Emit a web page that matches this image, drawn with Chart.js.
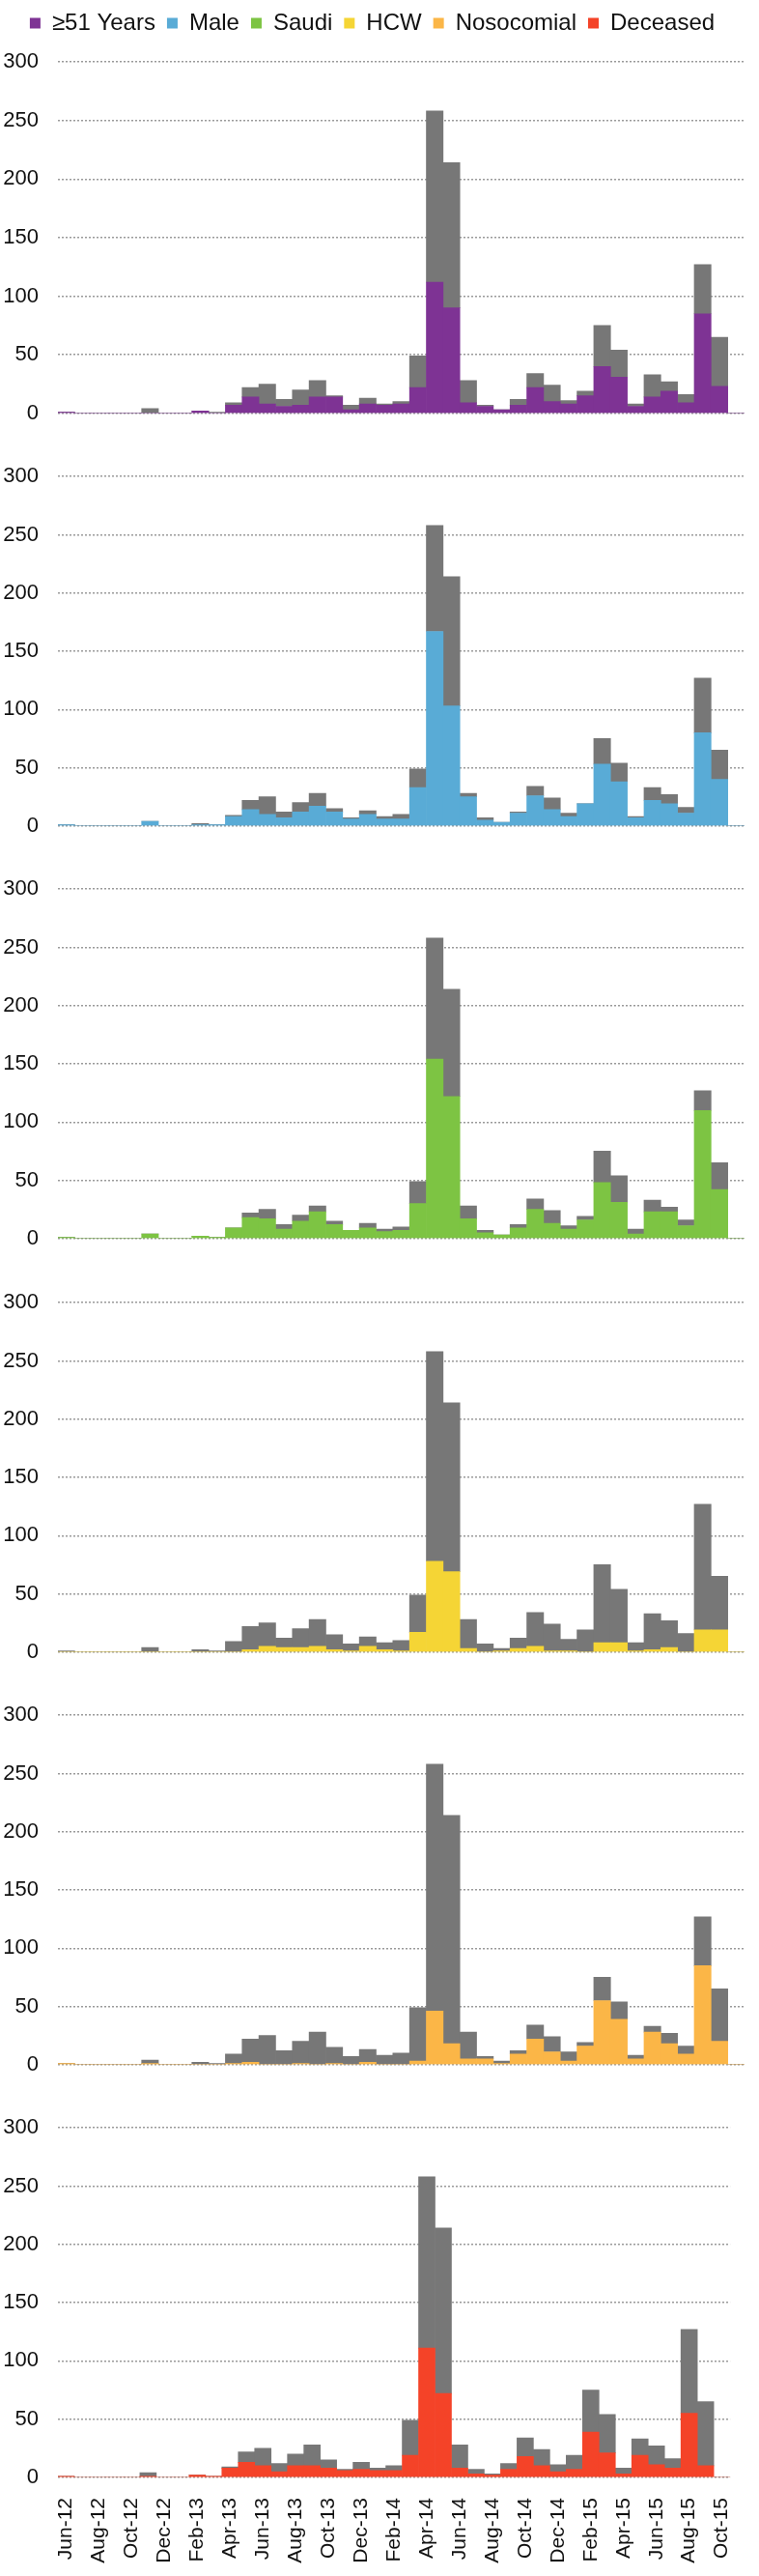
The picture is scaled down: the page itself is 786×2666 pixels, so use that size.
<!DOCTYPE html>
<html>
<head>
<meta charset="utf-8">
<title>Cases by month</title>
<script src="https://cdn.jsdelivr.net/npm/chart.js@4"></script>
<style>
    body { margin: 0; background: #fff; }
    #wrap { position: relative; width: 786px; height: 2666px; }
    #wrap canvas { position: absolute; left: 0; }
</style>
</head>
<body>
<div id="wrap">
    <canvas id="panel-0" width="786" height="461" style="top:0px"></canvas>
    <canvas id="panel-1" width="786" height="428" style="top:460px"></canvas>
    <canvas id="panel-2" width="786" height="428" style="top:887px"></canvas>
    <canvas id="panel-3" width="786" height="428" style="top:1315px"></canvas>
    <canvas id="panel-4" width="786" height="428" style="top:1742px"></canvas>
    <canvas id="panel-5" width="786" height="497" style="top:2169px"></canvas>
</div>
<script>
const months = ["Jun-12", "Jul-12", "Aug-12", "Sep-12", "Oct-12", "Nov-12", "Dec-12",
    "Jan-13", "Feb-13", "Mar-13", "Apr-13", "May-13", "Jun-13", "Jul-13", "Aug-13", "Sep-13", "Oct-13", "Nov-13", "Dec-13",
    "Jan-14", "Feb-14", "Mar-14", "Apr-14", "May-14", "Jun-14", "Jul-14", "Aug-14", "Sep-14", "Oct-14", "Nov-14", "Dec-14",
    "Jan-15", "Feb-15", "Mar-15", "Apr-15", "May-15", "Jun-15", "Jul-15", "Aug-15", "Sep-15", "Oct-15"];

// all cases per month (the grey part is whatever is left over)
const totalCases = [1, 0, 0, 0, 0, 4, 0, 0, 2, 1, 9, 22, 25, 12, 20, 28, 15, 7, 13, 8,
    10, 49, 258, 214, 28, 7, 3, 12, 34, 24, 11, 19, 75, 54, 8, 33, 27, 16, 127, 65, 0];

const over51 = [1, 0, 0, 0, 0, 0, 0, 0, 2, 0, 7, 14, 8, 6, 7, 14, 14, 3, 8, 7,
    8, 22, 112, 90, 9, 6, 3, 7, 22, 10, 8, 15, 40, 31, 6, 14, 19, 9, 85, 23, 0];
const male = [1, 0, 0, 0, 0, 4, 0, 0, 1, 1, 8, 14, 10, 7, 12, 17, 12, 6, 10, 6,
    6, 33, 167, 103, 25, 5, 3, 11, 26, 14, 8, 19, 53, 38, 7, 22, 19, 11, 80, 40, 0];
const saudi = [1, 0, 0, 0, 0, 4, 0, 0, 2, 1, 9, 18, 17, 8, 15, 23, 12, 7, 9, 6,
    7, 30, 154, 122, 17, 5, 3, 9, 25, 13, 8, 16, 48, 31, 4, 23, 23, 11, 110, 42, 0];
const hcw = [0, 0, 0, 0, 0, 0, 0, 0, 0, 0, 0, 2, 5, 4, 4, 5, 2, 1, 5, 2,
    1, 17, 78, 69, 3, 0, 1, 3, 5, 1, 1, 0, 8, 8, 1, 2, 4, 0, 19, 19, 0];
const nosocomial = [1, 0, 0, 0, 0, 1, 0, 0, 0, 0, 1, 2, 0, 0, 1, 0, 1, 0, 2, 0,
    0, 3, 46, 18, 5, 5, 1, 9, 22, 11, 3, 16, 55, 39, 5, 28, 18, 9, 85, 20, 0];
const deceased = [1, 0, 0, 0, 0, 1, 0, 0, 2, 1, 8, 13, 10, 5, 10, 10, 8, 6, 7, 6,
    6, 19, 111, 72, 8, 3, 2, 7, 18, 10, 5, 7, 39, 21, 3, 19, 11, 8, 55, 10, 0];

const categories = ['≥51 Years', 'Male', 'Saudi', 'HCW', 'Nosocomial', 'Deceased'];
const subsets = [over51, male, saudi, hcw, nosocomial, deceased];
const colors = ['#7E3394', '#59ABD6', '#7DC443', '#F5D535', '#FBB647', '#F44328'];

const yMax = 300;
const yStep = 50;

const fontFamily = "'Liberation Sans', Arial, sans-serif";

// push the first plot down below the legend
const legendSpace = {
    id: 'legendSpace',
    beforeInit(chart) {
        const fit = chart.legend.fit;
        chart.legend.fit = function () {
            fit.bind(chart.legend)();
            this.height = 64;
        };
    }
};

function drawPanel(p) {
    const first = p === 0;
    const last = p === subsets.length - 1;
    const subset = subsets[p];
    const rest = totalCases.map((t, i) => t - subset[i]);

    return new Chart(document.getElementById('panel-' + p), {
        type: 'bar',
        data: {
            labels: months,
            datasets: [{
                label: categories[p],
                data: subset,
                backgroundColor: colors[p],
                borderWidth: 0
            }, {
                label: 'Other',
                data: rest,
                backgroundColor: '#777777',
                borderWidth: 0
            }]
        },
        options: {
            responsive: false,
            animation: false,
            categoryPercentage: 1,
            barPercentage: 1,
            layout: {
                padding: {left: 0, right: 15, top: first ? 0 : 31, bottom: last ? 0 : 31}
            },
            plugins: {
                tooltip: {enabled: false},
                legend: {
                    display: first,
                    position: 'top',
                    labels: {
                        boxWidth: 11,
                        boxHeight: 11,
                        padding: 12,
                        color: '#111',
                        font: {family: fontFamily, size: 24},
                        generateLabels: () => categories.map((name, i) => ({
                            text: name,
                            fillStyle: colors[i],
                            strokeStyle: colors[i],
                            lineWidth: 0,
                            fontColor: '#111',
                            hidden: false,
                            datasetIndex: 0
                        }))
                    }
                }
            },
            scales: {
                x: {
                    stacked: true,
                    display: last,
                    grid: {display: false},
                    border: {display: false},
                    ticks: {
                        autoSkip: false,
                        minRotation: 90,
                        maxRotation: 90,
                        padding: 13,
                        color: '#111',
                        font: {family: fontFamily, size: 21},
                        callback: (value, index) => index % 2 === 0 ? months[index] : ''
                    },
                    afterFit(scale) {
                        if (last) scale.height = 102;
                    }
                },
                y: {
                    stacked: true,
                    min: 0,
                    max: yMax,
                    ticks: {
                        stepSize: yStep,
                        padding: 20,
                        color: '#111',
                        font: {family: fontFamily, size: 22}
                    },
                    grid: {color: '#9a9a9a', lineWidth: 1.5, drawTicks: false},
                    border: {display: false, dash: [2, 2]},
                    afterFit(scale) {
                        scale.width = 60;
                    }
                }
            }
        },
        plugins: first ? [legendSpace] : []
    });
}

subsets.forEach((s, p) => drawPanel(p));
</script>
</body>
</html>
